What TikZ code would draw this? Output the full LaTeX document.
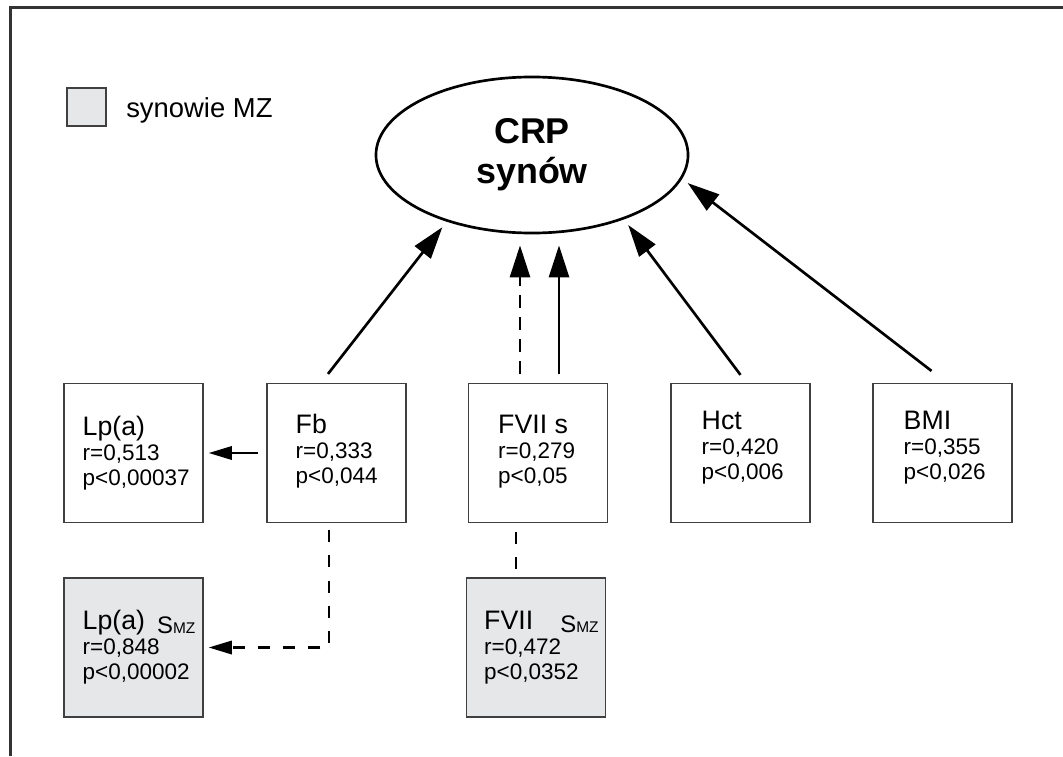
\documentclass[tikz,border=0pt]{standalone}
\usepackage{fontspec}
\setmainfont{Liberation Sans}
\usepackage{xcolor}
\usetikzlibrary{positioning,arrows.meta,calc,shapes.geometric}

\definecolor{mzgray}{HTML}{E6E7E8}
\definecolor{framegray}{HTML}{333333}

\newcommand{\boxtitle}[1]{{\fontsize{19}{21}\selectfont #1}}
\newcommand{\smz}{\raisebox{-0.09cm}{\fontsize{17}{19}\selectfont S\fontsize{11}{12}\selectfont MZ}}

\begin{document}
\begin{tikzpicture}[
  x=0.025cm, y=-0.025cm,
  every node/.style={font=\fontsize{16}{17.8}\selectfont},
  box/.style={draw=black!75, line width=0.8pt, rectangle, minimum width=3.475cm,
              minimum height=3.475cm, inner sep=0pt},
  mzbox/.style={box, fill=mzgray},
  txt/.style={anchor=west, align=left, inner sep=0pt},
  target/.style={draw, ellipse, line width=1.9pt, minimum width=7.8cm, minimum height=3.9cm,
                 align=center, font=\fontsize{25.5}{28.45}\selectfont\bfseries},
  arr/.style={-{Triangle[length=0.8cm, width=0.5cm]}, line width=1.9pt},
  harr/.style={-{Triangle[length=0.58cm, width=0.33cm]}, line width=1.9pt},
  dsh/.style={dash pattern=on 0.3cm off 0.33cm},
  dshup/.style={dash pattern=on 0.33cm off 0.22cm}
]
\useasboundingbox (0,0) rectangle (1063,756);

% ---- Frame (top and left edge only) ----
\draw[framegray, line width=2.1pt] (10.5,756) -- (10.5,7.5) -- (1063,7.5);

% ---- Column / row positions ----
\def\xA{133.5}   % Lp(a) col
\def\xB{336.5}   % Fb col
\def\xC{538}     % FVII col
\def\xD{740.5}   % Hct col
\def\xE{942.5}   % BMI col
\def\yA{453}     % upper row
\def\yB{647.5}   % lower row

% ---- Legend ----
\node[mzbox, minimum width=0.975cm, minimum height=0.95cm] (leg) at (86.5,107) {};
\node[anchor=base west, inner sep=0pt, font=\fontsize{19.5}{22}\selectfont] (legt) at (126,117) {synowie MZ};

% ---- Target ----
\node[target] (crp) at (532,155) {CRP\\synów};

% ---- Upper row ----
\node[box] (lpa)  at (\xA,\yA) {};
\node[box] (fb)   at (\xB,\yA) {};
\node[box] (fvii) at (\xC,\yA) {};
\node[box] (hct)  at (\xD,\yA) {};
\node[box] (bmi)  at (\xE,\yA) {};

\node[txt] (lpat)  at ($(lpa.west)+(19,0)$)   {\boxtitle{Lp(a)}\\r=0,513\\p<0,00037};
\node[txt] (fbt)   at ($(fb.west)+(29,-2)$)   {\boxtitle{Fb}\\r=0,333\\p<0,044};
\node[txt] (fviit) at ($(fvii.west)+(30,-1)$) {\boxtitle{FVII s}\\r=0,279\\p<0,05};
\node[txt] (hctt)  at ($(hct.west)+(31,-5)$)  {\boxtitle{Hct}\\r=0,420\\p<0,006};
\node[txt] (bmit)  at ($(bmi.west)+(31,-5)$)  {\boxtitle{BMI}\\r=0,355\\p<0,026};

% ---- Lower row (synowie MZ) ----
\node[mzbox] (lpamz)  at (\xA,\yB) {};
\node[mzbox] (fviimz) at (536,\yB) {};

\node[txt] (lpamzt)  at ($(lpamz.west)+(19,0)$)  {\boxtitle{Lp(a)\hspace{0.3cm}\smz}\\r=0,848\\p<0,00002};
\node[txt] (fviimzt) at ($(fviimz.west)+(18,0)$) {\boxtitle{FVII\hspace{0.68cm}\smz}\\r=0,472\\p<0,0352};

% ---- Arrows: factors -> CRP ----
\coordinate (fvd) at ($(fvii.north)+(-18,-9)$);
\coordinate (fvs) at ($(fvii.north)+(21,-9)$);
\draw[arr, shorten >=0.175cm] ($(fb.north)+(-8.5,-9)$) -- (crp.218.6);
\draw[arr, dshup, shorten >=0.275cm] (fvd) -- (fvd |- crp.south);
\draw[arr, shorten >=0.275cm] (fvs) -- (fvs |- crp.south);
\draw[arr, shorten >=0.175cm] ($(hct.north)+(0,-8)$) -- (crp.325);
\draw[arr, shorten >=0.175cm] ($(bmi.north)+(-11,-12)$) -- (crp.351.7);

% ---- Arrows: Fb -> Lp(a) ----
\draw[harr, shorten <=0.2cm, shorten >=0.125cm] (fb.west) -- (lpa.east);
\draw[harr, dsh, shorten <=0.175cm, shorten >=0.125cm] ($(fb.south)+(-7.5,0)$) |- (lpamz.east);

% ---- FVII link ----
\draw[dsh, line width=1.9pt] ($(fvii.south)+(-22,9)$) -- ($(fviimz.north)+(-20,-8)$);

\end{tikzpicture}
\end{document}
